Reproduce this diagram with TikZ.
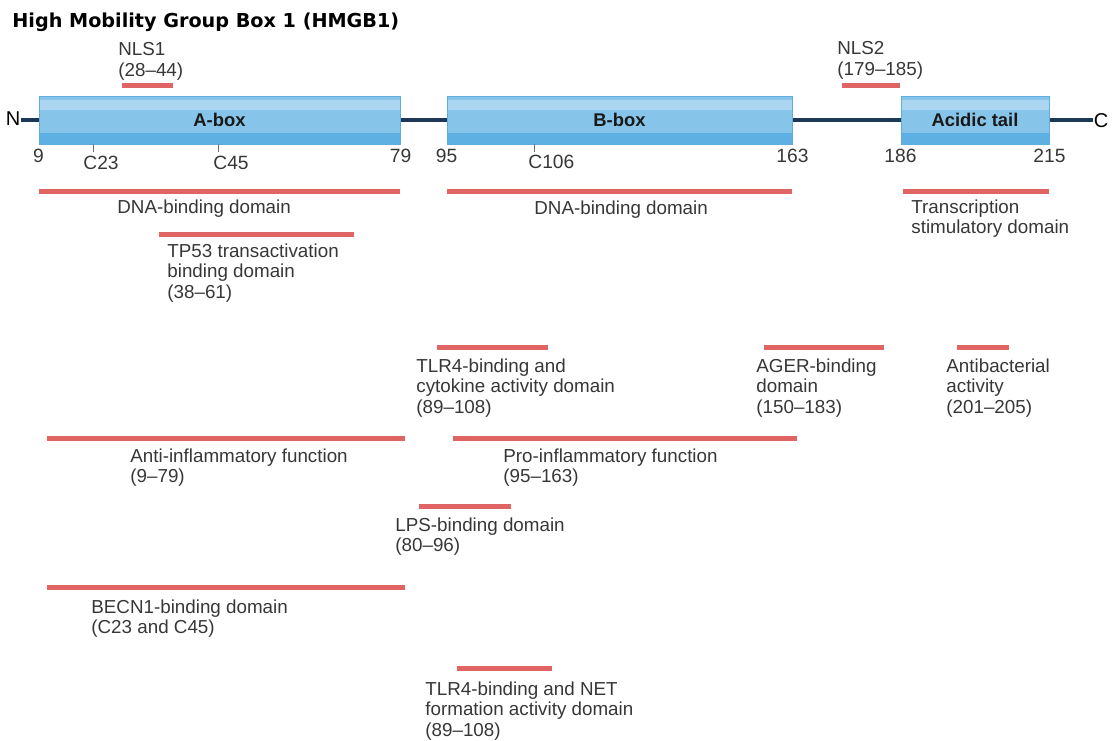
\documentclass[tikz,border=0pt]{standalone}
\usepackage{fontspec}
\setmainfont{Liberation Sans}
\newfontfamily\titulofont{DejaVu Sans}
\usetikzlibrary{positioning}
\usetikzlibrary{calc}
\definecolor{figAzul}{RGB}{134,196,234}
\definecolor{figAzulClaro}{RGB}{170,214,242}
\definecolor{figAzulOscuro}{RGB}{94,176,226}
\definecolor{figAzulBorde}{RGB}{96,174,224}
\definecolor{figEje}{RGB}{30,56,88}
\definecolor{figRojo}{RGB}{224,100,100}
\definecolor{figTexto}{RGB}{55,55,55}
\definecolor{figMarca}{RGB}{110,110,110}
\tikzset{
  caja/.style={
    rectangle, draw=figAzulBorde, line width=0.5pt, fill=figAzul,
    minimum height=24pt, inner sep=0pt,
    font=\fontsize{9.2}{10}\selectfont\bfseries, text=black!90,
    path picture={
      \fill[figAzulClaro] ($(path picture bounding box.north west)+(0,-2pt)$)
        rectangle ($(path picture bounding box.north east)+(0,-7pt)$);
      \fill[figAzulOscuro] (path picture bounding box.south west)
        rectangle ($(path picture bounding box.south east)+(0,5.5pt)$);
    }
  },
  eje/.style={line width=2pt, draw=figEje},
  barra/.style={line width=2.5pt, draw=figRojo},
  marca/.style={line width=0.5pt, draw=figMarca},
  etiqueta/.style={
    anchor=north west, align=left, inner sep=0pt,
    font=\fontsize{9.4}{10.25}\selectfont, text=figTexto
  },
  numero/.style={inner sep=0pt, font=\fontsize{9.6}{11}\selectfont, text=figTexto},
  extremo/.style={inner sep=0pt, font=\fontsize{10}{11}\selectfont, text=black}
}

\begin{document}
\begin{tikzpicture}[x=0.5pt, y=-0.5pt]
  \useasboundingbox (0,0) rectangle (1114,740);
  \node[anchor=base west, inner sep=0pt, font=\titulofont\bfseries\fontsize{9.6}{11}\selectfont] (titulo) at (12,27) {High Mobility Group Box 1 (HMGB1)};

  \node[extremo] (N) at (13,119) {N};
  \node[extremo] (C) at (1101,121) {C};
  \draw[eje] (N.east |- 0,120) -- (C.west |- 0,120);

  \node[caja, minimum width=180.5pt] (abox) at (219.5,120) {A-box};
  \node[caja, minimum width=172.5pt] (bbox) at (619.5,120) {B-box};
  \node[caja, minimum width=74pt] (tail) at (975,120) {Acidic tail};

  \node[numero, below=2pt of abox.south west] (n9) {9};
  \node[numero, below=2pt of abox.south east] (n79) {79};
  \node[numero, below=2pt of bbox.south west] (n95) {95};
  \node[numero, below=2pt of bbox.south east] (n163) {163};
  \node[numero, below=2pt of tail.south west] (n186) {186};
  \node[numero, below=2pt of tail.south east] (n215) {215};

  \draw[marca] (93,144) -- (93,152);
  \draw[marca] (218,144) -- (218,152);
  \draw[marca] (534,144) -- (534,152);
  \node[numero, anchor=north west] (c23) at (83,156) {C23};
  \node[numero, anchor=north west] (c45) at (213,156) {C45};
  \node[numero, anchor=north west] (c106) at (528,155) {C106};

  \draw[barra] (122,85) -- (173,85);
  \node[etiqueta] (nls1) at (118,42) {NLS1\\(28–44)};
  \draw[barra] (842,85) -- (900,85);
  \node[etiqueta] (nls2) at (837,41) {NLS2\\(179–185)};

  \draw[barra] (39,191) -- (400,191);
  \node[etiqueta] (dnaa) at (117,199) {DNA-binding domain};
  \draw[barra] (447,191) -- (792,191);
  \node[etiqueta] (dnab) at (534,200) {DNA-binding domain};
  \draw[barra] (903,191) -- (1049,191);
  \node[etiqueta] (trans) at (911,199) {Transcription\\stimulatory domain};

  \draw[barra] (159,234) -- (354,234);
  \node[etiqueta] (tp53) at (167,243) {TP53 transactivation\\binding domain\\(38–61)};

  \draw[barra] (437,347) -- (548,347);
  \node[etiqueta] (tlrc) at (416,358) {TLR4-binding and\\cytokine activity domain\\(89–108)};
  \draw[barra] (764,347) -- (884,347);
  \node[etiqueta] (ager) at (756,358) {AGER-binding\\domain\\(150–183)};
  \draw[barra] (957,347) -- (1009,347);
  \node[etiqueta] (anti) at (946,358) {Antibacterial\\activity\\(201–205)};

  \draw[barra] (47,438) -- (405,438);
  \node[etiqueta] (antiinf) at (130,448) {Anti-inflammatory function\\(9–79)};
  \draw[barra] (453,438) -- (797,438);
  \node[etiqueta] (proinf) at (503,448) {Pro-inflammatory function\\(95–163)};

  \draw[barra] (419,506) -- (511,506);
  \node[etiqueta] (lps) at (395,517) {LPS-binding domain\\(80–96)};

  \draw[barra] (47,587) -- (405,587);
  \node[etiqueta] (becn) at (91,599) {BECN1-binding domain\\(C23 and C45)};

  \draw[barra] (457,668) -- (552,668);
  \node[etiqueta] (tlrn) at (425,681) {TLR4-binding and NET\\formation activity domain\\(89–108)};
\end{tikzpicture}
\end{document}
